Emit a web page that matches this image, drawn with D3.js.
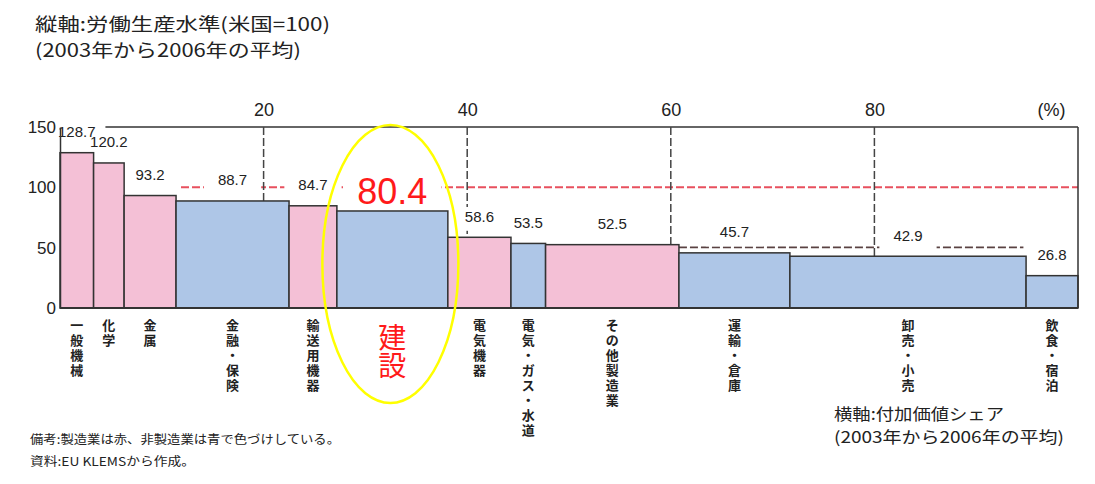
<!DOCTYPE html>
<html>
<head>
<meta charset="utf-8">
<script src="https://cdn.jsdelivr.net/npm/d3@7"></script>
<style>
  html, body { margin: 0; padding: 0; background: #fff; }
  svg { display: block; }
  .jp { font-family: "Noto Sans CJK JP", "Noto Sans", sans-serif; }
  .num { font-family: "Liberation Sans", Arial, sans-serif; }
</style>
</head>
<body>
<div id="chart"></div>
<script>
// industries, left to right
var categories = ['一般機械', '化学', '金属', '金融・保険', '輸送用機器', '建設', '電気機器', '電気・ガス・水道', 'その他製造業', '運輸・倉庫', '卸売・小売', '飲食・宿泊'];
// labour productivity, US = 100 (bar height)
var productivity = [128.7, 120.2, 93.2, 88.7, 84.7, 80.4, 58.6, 53.5, 52.5, 45.7, 42.9, 26.8];
// value added share in % (bar width)
var valueShare = [3.3, 3.0, 5.1, 11.1, 4.7, 10.9, 6.2, 3.4, 13.1, 10.9, 23.2, 5.1];
// manufacturing = red, the rest = blue
var manufacturing = [true, true, true, false, true, false, true, false, true, false, false, false];
var highlighted = '建設';
var yTicks = [0, 50, 100, 150];
var xTicks = [20, 40, 60, 80];
var usLevel = 100;
var serviceLevel = 50.3; // dashed line over the services part
var serviceFrom = 'その他製造業'; // it starts after this bar

(function() {
  var width = 1095;
  var height = 484;
  var margin = { left: 60, right: 17, top: 127, bottom: 176 };
  var pink = '#f4c0d6';
  var blue = '#aec6e7';
  var edge = '#333';

  var svg = d3.select('#chart').append('svg').attr('width', width).attr('height', height);

  var x = d3.scaleLinear().domain([0, 100]).range([margin.left, width - margin.right]);
  var y = d3.scaleLinear().domain([0, 150]).range([height - margin.bottom, margin.top]);

  // cumulative positions of the bars
  var bars = [];
  var acc = 0;
  categories.forEach(function(name, i) {
    bars.push({ name: name, value: productivity[i], x0: acc, x1: acc + valueShare[i], mfg: manufacturing[i] });
    acc += valueShare[i];
  });

  var gFrame = svg.append('g');
  var gRef = svg.append('g');
  var gBoxes = svg.append('g');
  var gBars = svg.append('g');
  var gLabels = svg.append('g');
  var gAxes = svg.append('g');

  // top border of the plot
  gFrame.append('line')
    .attr('x1', x(0)).attr('x2', x(100))
    .attr('y1', y(150)).attr('y2', y(150))
    .attr('stroke', '#333').attr('stroke-width', 1.5);

  // US level line
  gRef.append('line')
    .attr('x1', x(0)).attr('x2', x(100))
    .attr('y1', y(usLevel)).attr('y2', y(usLevel))
    .attr('stroke', '#e8505e').attr('stroke-width', 2)
    .attr('stroke-dasharray', '8,3');

  // services dashed line
  var fromBar = bars.filter(function(b) { return b.name === serviceFrom; })[0];
  gRef.append('line')
    .attr('x1', x(fromBar.x1)).attr('x2', x(100))
    .attr('y1', y(serviceLevel)).attr('y2', y(serviceLevel))
    .attr('stroke', '#5a4242').attr('stroke-width', 1.8)
    .attr('stroke-dasharray', '8,3');

  // vertical dashed grid lines, down to the bar under them
  xTicks.forEach(function(t) {
    var under = bars.filter(function(b) { return t >= b.x0 && t < b.x1; })[0];
    gRef.append('line')
      .attr('x1', x(t)).attr('x2', x(t))
      .attr('y1', y(150)).attr('y2', y(under.value))
      .attr('stroke', '#444').attr('stroke-width', 1.5)
      .attr('stroke-dasharray', '8,3');
  });

  // bars
  gBars.selectAll('rect')
    .data(bars)
    .enter().append('rect')
    .attr('x', function(d) { return x(d.x0); })
    .attr('y', function(d) { return y(d.value); })
    .attr('width', function(d) { return x(d.x1) - x(d.x0); })
    .attr('height', function(d) { return y(0) - y(d.value); })
    .attr('fill', function(d) { return d.mfg ? pink : blue; })
    .attr('stroke', edge)
    .attr('stroke-width', 1.5);

  // value labels, white boxes behind them hide the dashed lines
  bars.forEach(function(d) {
    var big = d.name === highlighted;
    var size = big ? 36 : 15;
    var cx = (x(d.x0) + x(d.x1)) / 2;
    var base = y(d.value) - (big ? 7 : 15.5);
    gLabels.append('text')
      .attr('class', 'num')
      .attr('x', cx)
      .attr('y', base)
      .attr('text-anchor', 'middle')
      .attr('font-size', size)
      .attr('fill', big ? '#ff1a1a' : '#222')
      .text(d.value.toFixed(1));
    var w = size * 1.95;
    var cap = size * 0.72;
    gBoxes.append('rect')
      .attr('x', cx - w / 2 - 14)
      .attr('y', base - cap - 4)
      .attr('width', w + 28)
      .attr('height', cap + 13)
      .attr('fill', '#fff');
  });

  // category names, one character per line
  bars.forEach(function(d) {
    var big = d.name === highlighted;
    var cx = (x(d.x0) + x(d.x1)) / 2;
    var step = big ? 28 : 15;
    var t = gLabels.append('text')
      .attr('class', 'jp')
      .attr('text-anchor', 'middle')
      .attr('font-size', big ? 28 : 13)
      .attr('font-weight', big ? 400 : 700)
      .attr('fill', big ? '#ff1a1a' : '#222');
    d.name.split('').forEach(function(ch, i) {
      t.append('tspan')
        .attr('x', cx)
        .attr('y', (big ? 348 : 330) + i * step)
        .text(ch);
    });
  });

  // left axis
  var yAxis = gAxes.append('g')
    .attr('transform', 'translate(' + x(0) + ',0)')
    .call(d3.axisLeft(y).tickValues(yTicks).tickSize(0).tickPadding(4));
  yAxis.select('.domain').attr('stroke', edge).attr('stroke-width', 1.5);
  yAxis.selectAll('text').attr('class', 'num').attr('font-size', 17).attr('fill', '#222');

  // top axis (value added share)
  var xAxis = gAxes.append('g')
    .attr('transform', 'translate(0,' + y(150) + ')')
    .call(d3.axisTop(x).tickValues(xTicks).tickSize(0).tickPadding(11));
  xAxis.select('.domain').remove();
  xAxis.selectAll('text').attr('class', 'num').attr('font-size', 18).attr('fill', '#222');
  gAxes.append('text')
    .attr('class', 'num')
    .attr('x', x(97.4))
    .attr('y', y(150) - 11)
    .attr('text-anchor', 'middle')
    .attr('font-size', 18)
    .attr('fill', '#222')
    .text('(%)');

  // bottom and right border
  gAxes.append('line')
    .attr('x1', x(0)).attr('x2', x(100))
    .attr('y1', y(0)).attr('y2', y(0))
    .attr('stroke', edge).attr('stroke-width', 2);
  gAxes.append('line')
    .attr('x1', x(100)).attr('x2', x(100))
    .attr('y1', y(150)).attr('y2', y(0))
    .attr('stroke', edge).attr('stroke-width', 1.5);

  // yellow ring round the construction bar
  var hb = bars.filter(function(b) { return b.name === highlighted; })[0];
  svg.append('ellipse')
    .attr('cx', (x(hb.x0) + x(hb.x1)) / 2 - 2)
    .attr('cy', 264)
    .attr('rx', 68)
    .attr('ry', 139)
    .attr('fill', 'none')
    .attr('stroke', '#ffff00')
    .attr('stroke-width', 2.5);

  // titles and notes
  var notes = svg.append('g').attr('class', 'jp').attr('fill', '#222');
  addNote(35, 31, 18, 295, '縦軸:労働生産水準(米国=100)');
  addNote(35, 57, 18, 266, '(2003年から2006年の平均)');
  addNote(834, 420, 16, 170, '横軸:付加価値シェア');
  addNote(834, 443, 16, 230, '(2003年から2006年の平均)');
  addNote(30, 444, 12, 310, '備考:製造業は赤、非製造業は青で色づけしている。');
  addNote(30, 466, 12, 165, '資料:EU KLEMSから作成。');

  function addNote(nx, ny, size, len, txt) {
    notes.append('text')
      .attr('x', nx)
      .attr('y', ny)
      .attr('font-size', size)
      .attr('textLength', len)
      .attr('lengthAdjust', 'spacingAndGlyphs')
      .text(txt);
  }
}).call(this);
</script>
</body>
</html>
